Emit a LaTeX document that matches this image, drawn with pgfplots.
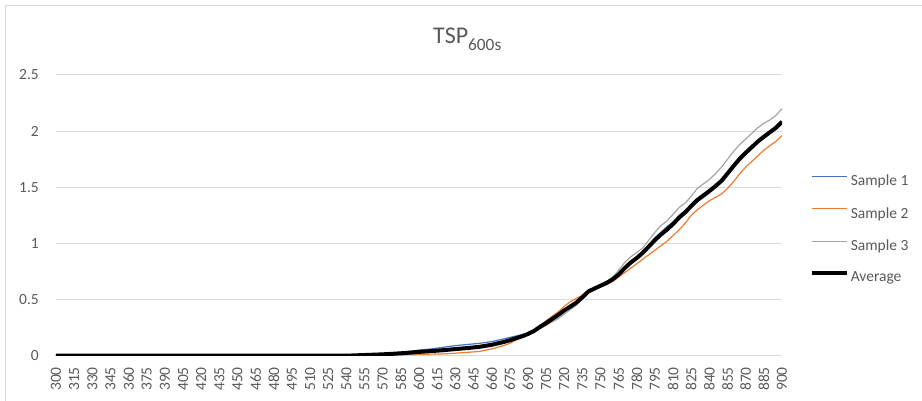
\documentclass[border=0pt]{standalone}
\usepackage{pgfplots}
\pgfplotsset{compat=1.18}
\usepackage{pgfplotstable}
\usepackage{fontspec}
\setmainfont{Carlito}
\definecolor{textgray}{HTML}{595959}
\definecolor{gridgray}{HTML}{D9D9D9}
\definecolor{serA}{RGB}{68,114,196}
\definecolor{serB}{RGB}{237,125,49}
\definecolor{serC}{RGB}{165,165,165}

\pgfplotstableread{
x y
300 0
540 0
550 0.005
560 0.01
570 0.015
580 0.025
590 0.035
600 0.05
610 0.06
620 0.075
630 0.09
640 0.10
650 0.11
660 0.125
670 0.15
680 0.175
690 0.20
695 0.22
700 0.26
705 0.29
710 0.33
715 0.37
720 0.40
725 0.42
730 0.46
735 0.52
740 0.575
745 0.60
750 0.625
755 0.65
760 0.68
765 0.71
770 0.77
775 0.83
780 0.87
785 0.93
790 0.99
795 1.05
800 1.10
805 1.15
810 1.19
815 1.25
820 1.29
825 1.33
830 1.37
835 1.41
840 1.45
845 1.50
850 1.55
855 1.63
860 1.70
865 1.76
870 1.81
875 1.86
880 1.91
885 1.95
890 2.00
895 2.04
900 2.09
}\sone

\pgfplotstableread{
x y
300 0
540 0
550 0.002
560 0.004
570 0.006
580 0.008
590 0.01
600 0.012
610 0.014
620 0.016
630 0.022
640 0.03
650 0.038
660 0.06
670 0.09
675 0.11
680 0.14
685 0.16
690 0.19
695 0.23
700 0.27
705 0.31
710 0.35
715 0.39
720 0.44
725 0.48
730 0.51
735 0.54
740 0.57
745 0.595
750 0.615
755 0.635
760 0.66
765 0.70
770 0.74
775 0.78
780 0.82
785 0.86
790 0.90
795 0.94
800 0.98
805 1.02
810 1.07
815 1.12
820 1.18
825 1.25
830 1.30
835 1.34
840 1.38
845 1.41
850 1.44
855 1.49
860 1.55
865 1.62
870 1.68
875 1.73
880 1.78
885 1.83
890 1.87
895 1.91
900 1.96
}\stwo

\pgfplotstableread{
x y
300 0
540 0
550 0.005
560 0.01
570 0.015
580 0.022
590 0.03
600 0.04
610 0.048
620 0.055
630 0.065
640 0.075
650 0.09
660 0.105
670 0.125
680 0.15
690 0.19
695 0.21
700 0.24
705 0.27
710 0.30
715 0.33
720 0.37
725 0.41
730 0.45
735 0.50
740 0.57
745 0.60
750 0.63
755 0.66
760 0.70
765 0.76
770 0.83
775 0.88
780 0.92
785 0.96
790 1.03
795 1.10
800 1.16
805 1.20
810 1.26
815 1.32
820 1.36
825 1.42
830 1.49
835 1.53
840 1.57
845 1.62
850 1.68
855 1.75
860 1.82
865 1.88
870 1.93
875 1.98
880 2.03
885 2.07
890 2.10
895 2.14
900 2.20
}\sthree

\pgfplotstableread{
x y
300 0
540 0
550 0.004
560 0.008
570 0.012
580 0.018
590 0.025
600 0.034
610 0.041
620 0.049
630 0.059
640 0.068
650 0.079
660 0.097
670 0.122
675 0.137
680 0.155
685 0.172
690 0.193
695 0.22
700 0.257
705 0.29
710 0.327
715 0.363
720 0.403
725 0.437
730 0.473
735 0.52
740 0.572
745 0.598
750 0.623
755 0.648
760 0.68
765 0.723
770 0.78
775 0.83
780 0.87
785 0.917
790 0.973
795 1.03
800 1.08
805 1.123
810 1.173
815 1.23
820 1.277
825 1.333
830 1.387
835 1.427
840 1.467
845 1.51
850 1.557
855 1.623
860 1.69
865 1.753
870 1.807
875 1.857
880 1.907
885 1.95
890 1.99
895 2.03
900 2.083
}\savg

\begin{document}
\begin{tikzpicture}
\path[use as bounding box] (0,0) rectangle (922pt,401pt);
\draw[gridgray, line width=1pt] (5.5pt,0pt) -- (5.5pt,395.5pt) -- (922pt,395.5pt);
\node[anchor=base west, inner sep=0pt, text=textgray] at (433pt,357pt)
  {\fontsize{24}{28}\selectfont TSP\raisebox{-6.5pt}{\fontsize{17.3}{20}\selectfont 600s}};
\begin{axis}[
  at={(56pt,45.3pt)}, anchor=south west,
  scale only axis, width=726pt, height=280.7pt,
  xmin=300, xmax=900, ymin=0, ymax=2.5,
  xtick={300,315,...,900},
  ytick={0,0.5,1,1.5,2,2.5},
  yticklabels={0,0.5,1,1.5,2,2.5},
  axis line style={draw=none},
  ymajorgrids, grid style={gridgray, line width=1pt},
  major tick length=0pt,
  tick label style={font=\fontsize{15.5}{18}\selectfont, text=textgray, inner sep=0pt},
  /pgf/number format/assume math mode=true,
  xticklabel style={rotate=90, anchor=east},
  xticklabel shift=11.3pt,
  yticklabel shift=17pt,
  legend style={at={(1.038,0.451)}, anchor=west, draw=none, fill=none, inner sep=0pt,
    font=\fontsize{15.5}{18}\selectfont, row sep=16pt,
    cells={anchor=west, inner xsep=2.5pt, inner ysep=0pt}},
  legend image code/.code={\draw[#1] (0pt,4.5pt) -- (35pt,4.5pt);},
]
\addplot[color=serA, line width=1.2pt] table {\sone};
\addlegendentry{\textcolor{textgray}{Sample 1}}
\addplot[color=serB, line width=1.2pt] table {\stwo};
\addlegendentry{\textcolor{textgray}{Sample 2}}
\addplot[color=serC, line width=1.2pt] table {\sthree};
\addlegendentry{\textcolor{textgray}{Sample 3}}
\addplot[color=black, line width=4pt] table {\savg};
\addlegendentry{\textcolor{textgray}{Average}}
\end{axis}
\end{tikzpicture}
\end{document}
